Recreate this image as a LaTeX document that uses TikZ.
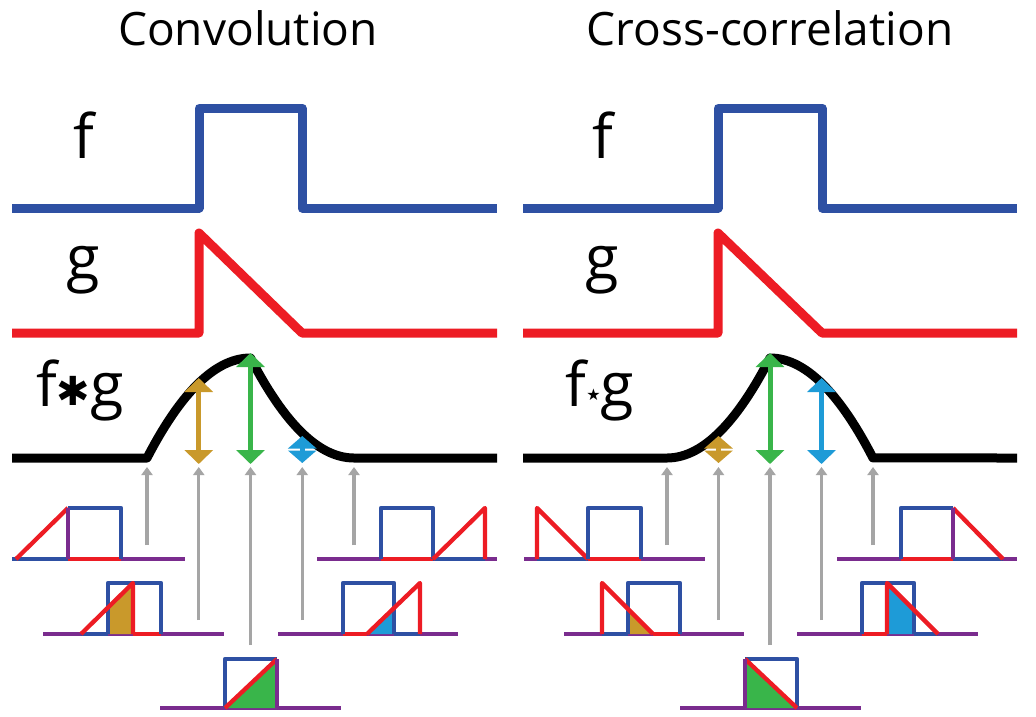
\documentclass[tikz,border=0pt]{standalone}
\usepackage{fontspec}
\setmainfont{Open Sans}
\newfontfamily\symfont{DejaVu Sans}
\usetikzlibrary{arrows.meta}
\definecolor{cblue}{RGB}{46,80,163}
\definecolor{cred}{RGB}{237,28,36}
\definecolor{cpurple}{RGB}{122,44,142}
\definecolor{cgold}{RGB}{201,153,43}
\definecolor{cgreen}{RGB}{57,181,74}
\definecolor{ccyan}{RGB}{30,155,215}
\definecolor{cgray}{RGB}{165,165,165}
\tikzset{
  sig/.style={line width=9pt, line join=round},
  sm/.style={line width=4.3pt, line join=round},
  garrow/.style={draw=cgray, line width=3.3pt, -{Triangle[width=11pt,length=8pt]}},
  valarrow/.style={line width=5pt, {Triangle[width=28pt,length=14pt]}-{Triangle[width=28pt,length=14pt]}},
  shortval/.style={line width=5pt, {Triangle[width=28pt,length=12.5pt]}-{Triangle[width=28pt,length=12.5pt]}},
  title/.style={anchor=base, inner sep=0pt, font=\fontsize{46}{46}\selectfont},
  lab/.style={anchor=base, inner sep=0pt, font=\fontsize{61}{61}\selectfont}
}
\begin{document}
\begin{tikzpicture}[x=1pt,y=-1pt]
\useasboundingbox (0,0) rectangle (1036,716);
\fill[white] (0,0) rectangle (1036,716);

% titles
\node[title] (t1) at (248,45) {Convolution};
\node[title] (t2) at (770,45) {Cross-correlation};

% labels
\node[lab] (lf1) at (84,158) {f};
\node[lab] (lg1) at (83,279) {g};
\node[lab] (lc1) at (80,406) {f{\symfont\fontsize{40}{40}\selectfont\raisebox{1pt}{✱}}g};
\node[lab] (lf2) at (603,158) {f};
\node[lab] (lg2) at (602,279) {g};
\node[lab] (lc2) at (600,406) {f{\symfont\fontsize{16}{16}\selectfont\raisebox{6pt}{★}}g};

% f and g
\draw[sig, cblue] (12,208) -- (199,208) -- (199,108) -- (302,108) -- (302,208) -- (497,208);
\draw[sig, cred] (12,333) -- (199,333) -- (199,233) -- (302,333) -- (497,333);
\draw[sig, cblue] (523,208) -- (718,208) -- (718,108) -- (822,108) -- (822,208) -- (1017,208);
\draw[sig, cred] (523,333) -- (718,333) -- (718,233) -- (822,333) -- (1017,333);

% results
\draw[sig] (12,458) -- (147,458)
  -- plot[domain=0:1,samples=30] ({147+103.5*\x},{458-200*(\x-\x*\x/2)})
  -- plot[domain=1:2,samples=30] ({147+103.5*\x},{458-100*(2-\x)*(2-\x)})
  -- (497,458);
\draw[sig] (523,458) -- (667,458)
  -- plot[domain=0:1,samples=30] ({667+103*\x},{458-100*\x*\x})
  -- plot[domain=1:2,samples=30] ({667+103*\x},{458-200*((2-\x)-(2-\x)*(2-\x)/2)})
  -- (1017,458);

% value arrows
\coordinate (ga1) at (198.75,378); \coordinate (gb1) at (198.75,464);
\coordinate (na1) at (250.5,353);  \coordinate (nb1) at (250.5,464);
\coordinate (ba1) at (302.25,436); \coordinate (bb1) at (302.25,463);
\draw[valarrow, cgold] (ga1) -- (gb1);
\draw[valarrow, cgreen] (na1) -- (nb1);
\draw[shortval, ccyan] (ba1) -- (bb1);
\coordinate (ga2) at (718.5,436); \coordinate (gb2) at (718.5,463);
\coordinate (na2) at (770,353);   \coordinate (nb2) at (770,464);
\coordinate (ba2) at (821.5,378); \coordinate (bb2) at (821.5,464);
\draw[shortval, cgold] (ga2) -- (gb2);
\draw[valarrow, cgreen] (na2) -- (nb2);
\draw[valarrow, ccyan] (ba2) -- (bb2);

% gray arrows
\foreach \n/\x/\b in {1/147/545, 2/198.75/620, 3/250.5/645, 4/302.25/620, 5/354/545,
                      6/667/545, 7/718.5/620, 8/770/645, 9/821.5/620, 10/873/545}{
  \coordinate (gs\n) at (\x,\b);
  \coordinate (ge\n) at (\x,467);
  \draw[garrow] (gs\n) -- (ge\n);
}

% ---------- convolution small diagrams ----------
% row1 left
\draw[sm, cpurple] (12,559) -- (185,559);
\draw[sm, cblue] (12,559) -- (68,559);
\draw[sm, cred] (68,559) -- (121,559);
\draw[sm, cred] (16,559) -- (68,508);
\draw[sm, cblue] (68,508) -- (121,508) -- (121,559);
\draw[sm, cpurple] (68,508) -- (68,559);
% row2 left
\draw[sm, cpurple] (43,634) -- (224,634);
\draw[sm, cblue] (81,634) -- (108,634);
\draw[sm, cred] (133,634) -- (161,634);
\fill[cgold] (108,634) -- (108,607.5) -- (133,583) -- (133,634) -- cycle;
\draw[sm, cblue] (108,634) -- (108,583) -- (161,583) -- (161,634);
\draw[sm, cred] (81,634) -- (133,583) -- (133,634);
% row3
\draw[sm, cpurple] (160,708) -- (341,708);
\fill[cgreen] (225,708) -- (277,659) -- (277,708) -- cycle;
\draw[sm, cblue] (225,708) -- (225,659) -- (277,659);
\draw[sm, cred] (225,708) -- (277,659);
\draw[sm, cpurple] (277,659) -- (277,708);
% row2 right
\draw[sm, cpurple] (278,634) -- (458,634);
\draw[sm, cred] (343,634) -- (367,634);
\draw[sm, cblue] (394,634) -- (420,634);
\fill[ccyan] (367,634) -- (394,608) -- (394,634) -- cycle;
\draw[sm, cblue] (343,634) -- (343,583) -- (394,583) -- (394,634);
\draw[sm, cred] (367,634) -- (420,583) -- (420,634);
% row1 right
\draw[sm, cpurple] (317,559) -- (497,559);
\draw[sm, cred] (381,559) -- (433,559);
\draw[sm, cblue] (433,559) -- (485,559);
\draw[sm, cblue] (381,559) -- (381,508) -- (433,508) -- (433,559);
\draw[sm, cred] (433,559) -- (485,508) -- (485,559);

% ---------- cross-correlation small diagrams ----------
% row1 left
\draw[sm, cpurple] (524,559) -- (705,559);
\draw[sm, cblue] (537,559) -- (588,559);
\draw[sm, cred] (588,559) -- (641,559);
\draw[sm, cred] (537,559) -- (537,508) -- (588,559);
\draw[sm, cblue] (588,559) -- (588,508) -- (641,508) -- (641,559);
% row2 left
\draw[sm, cpurple] (564,634) -- (744,634);
\draw[sm, cblue] (602,634) -- (628,634);
\draw[sm, cred] (653,634) -- (680,634);
\fill[cgold] (628,609) -- (653,634) -- (628,634) -- cycle;
\draw[sm, cblue] (628,634) -- (628,583) -- (680,583) -- (680,634);
\draw[sm, cred] (602,634) -- (602,583) -- (653,634);
% row3
\draw[sm, cpurple] (680,708) -- (861,708);
\fill[cgreen] (745,659) -- (797,708) -- (745,708) -- cycle;
\draw[sm, cblue] (745,659) -- (797,659) -- (797,708);
\draw[sm, cred] (745,659) -- (797,708);
\draw[sm, cpurple] (745,659) -- (745,708);
% row2 right
\draw[sm, cpurple] (797,634) -- (978,634);
\draw[sm, cred] (862,634) -- (887,634);
\draw[sm, cblue] (914,634) -- (938,634);
\fill[ccyan] (887,583) -- (914,610) -- (914,634) -- (887,634) -- cycle;
\draw[sm, cblue] (862,634) -- (862,583) -- (914,583) -- (914,634);
\draw[sm, cred] (887,634) -- (887,583) -- (938,634);
% row1 right
\draw[sm, cpurple] (837,559) -- (1017,559);
\draw[sm, cred] (901,559) -- (953,559);
\draw[sm, cblue] (953,559) -- (1003,559);
\draw[sm, cblue] (901,559) -- (901,508) -- (953,508);
\draw[sm, cred] (953,508) -- (1003,559);
\draw[sm, cpurple] (953,508) -- (953,559);
\end{tikzpicture}
\end{document}
